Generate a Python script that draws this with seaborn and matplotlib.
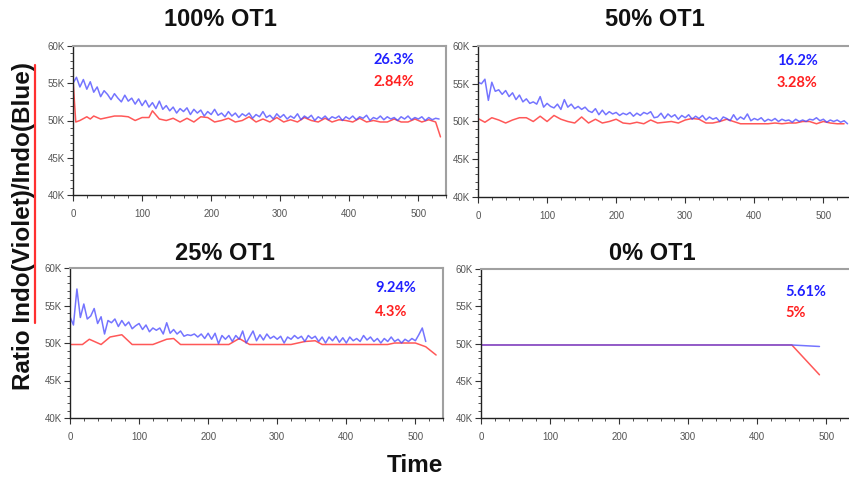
import numpy as np
import pandas as pd
import matplotlib
matplotlib.use("Agg")
import matplotlib.pyplot as plt
from matplotlib.ticker import FuncFormatter, MultipleLocator
from matplotlib.lines import Line2D
import seaborn as sns

# ---------------- data (values in thousands) ----------------
titles = ["100% OT1", "50% OT1", "25% OT1", "0% OT1"]
blue_pct = ["26.3%", "16.2%", "9.24%", "5.61%"]
red_pct = ["2.84%", "3.28%", "4.3%", "5%"]

# Panel 1 (100% OT1)
p1_blue_t = np.arange(0, 531, 5)
p1_blue = [55.0, 55.8, 54.5, 55.5, 54.2, 55.2, 53.8, 54.5, 53.2, 54.0, 53.5, 52.8, 53.6, 53.0, 52.5, 53.4,
           52.6, 53.0, 52.2, 52.9, 52.0, 52.7, 51.8, 52.4, 51.6, 52.6, 51.5, 52.0, 51.3, 51.8, 51.0, 51.6,
           51.2, 51.7, 50.8, 51.5, 51.0, 51.4, 50.6, 51.2, 50.8, 51.5, 50.7, 51.0, 50.5, 51.2, 50.6, 51.0,
           50.4, 50.9, 50.6, 51.0, 50.3, 50.8, 50.5, 51.2, 50.4, 50.7, 50.2, 50.9, 50.4, 50.8, 50.2, 50.6,
           50.3, 50.9, 50.1, 50.6, 50.3, 50.7, 50.0, 50.5, 50.2, 50.6, 50.1, 50.5, 50.3, 50.6, 50.0, 50.5,
           50.2, 50.6, 50.1, 50.5, 50.3, 50.7, 50.0, 50.4, 50.2, 50.6, 50.1, 50.5, 50.2, 50.4, 50.0, 50.5,
           50.2, 50.6, 50.1, 50.4, 50.2, 50.5, 50.0, 50.4, 50.1, 50.3, 50.2]
p1_red_t = [0, 4, 10, 20, 25, 30, 40, 50, 60, 70, 80, 90, 100, 110, 115, 125, 135, 145, 155, 165, 175,
            185, 195, 205, 215, 225, 235, 245, 255, 265, 275, 285, 295, 305, 315, 325, 335, 345, 355,
            365, 375, 385, 395, 405, 415, 425, 435, 445, 455, 465, 475, 485, 495, 505, 515, 525, 532]
p1_red = [55.5, 49.8, 50.0, 50.5, 50.2, 50.6, 50.2, 50.4, 50.6, 50.6, 50.5, 50.0, 50.4, 50.4, 51.3,
          50.2, 50.0, 50.3, 49.8, 50.3, 49.8, 50.5, 50.4, 49.8, 50.0, 50.3, 49.8, 50.0, 50.5, 49.8,
          50.2, 49.8, 50.4, 49.8, 50.1, 49.8, 50.4, 50.0, 49.8, 50.3, 49.8, 50.1, 50.0, 49.8, 50.3,
          49.8, 50.0, 49.8, 49.8, 50.2, 49.8, 49.8, 50.2, 49.8, 50.1, 49.8, 47.8]

# Panel 2 (50% OT1)
p2_blue_t = np.arange(0, 536, 5)
p2_blue = [55.2, 55.0, 55.6, 52.8, 55.2, 54.0, 54.2, 53.6, 54.1, 53.3, 53.8, 52.9, 53.5, 52.6, 53.0, 52.4,
           52.6, 52.3, 53.3, 51.9, 52.4, 52.0, 51.8, 52.3, 51.6, 52.9, 51.9, 52.3, 51.7, 52.0, 51.6, 51.9,
           51.4, 51.2, 51.7, 50.9, 51.5, 50.9, 51.3, 51.0, 51.2, 50.8, 51.1, 50.9, 51.2, 50.7, 51.1, 50.8,
           51.2, 51.0, 51.3, 50.5, 50.6, 51.1, 50.4, 51.0, 50.6, 50.9, 50.3, 50.8, 50.5, 50.9, 50.3, 50.7,
           50.4, 50.8, 50.2, 50.6, 50.3, 50.5, 50.0, 50.6, 50.4, 50.1, 50.9, 50.2, 50.6, 50.3, 51.0, 50.1,
           50.4, 50.2, 50.5, 50.0, 50.3, 50.1, 50.4, 50.0, 50.3, 50.1, 50.2, 49.9, 50.3, 50.0, 50.2, 50.0,
           50.3, 50.2, 50.5, 50.1, 50.3, 49.9, 50.2, 50.0, 50.2, 49.9, 50.1, 49.7]
p2_red_t = np.arange(0, 531, 10)
p2_red = [50.4, 49.9, 50.5, 50.2, 49.8, 50.2, 50.5, 50.5, 50.0, 50.7, 50.0, 50.8, 50.3, 50.0, 49.8,
          50.6, 49.8, 50.3, 49.8, 50.0, 50.3, 49.8, 49.7, 49.9, 49.7, 50.2, 49.8, 49.9, 50.0, 49.8,
          50.2, 50.4, 50.3, 49.8, 49.8, 50.0, 50.3, 50.0, 49.7, 49.7, 49.7, 49.7, 49.7, 49.8, 49.7,
          49.8, 49.8, 50.0, 50.0, 49.7, 50.0, 49.8, 49.7, 49.7]

# Panel 3 (25% OT1)
p3_blue_t = np.arange(0, 516, 5)
p3_blue = [53.5, 52.4, 57.2, 53.4, 55.2, 53.2, 53.6, 54.6, 52.6, 53.5, 51.2, 53.0, 52.7, 53.2, 52.2, 53.0,
           52.3, 52.8, 51.9, 52.3, 52.6, 51.8, 52.4, 51.5, 52.0, 51.7, 52.0, 51.2, 52.7, 51.3, 51.8, 51.2,
           51.6, 50.9, 51.1, 51.0, 51.2, 50.8, 51.2, 50.6, 51.3, 50.5, 51.3, 49.9, 51.0, 50.5, 51.0, 50.2,
           51.0, 50.5, 51.6, 50.0, 50.8, 51.6, 50.3, 51.1, 50.4, 51.2, 50.6, 50.9, 50.5, 50.9, 50.0, 50.8,
           50.5, 51.0, 50.6, 50.9, 50.2, 51.0, 50.6, 50.9, 50.2, 50.8, 50.0, 50.8, 50.3, 50.9, 50.1, 50.7,
           50.0, 50.8, 50.3, 50.6, 50.2, 51.0, 50.4, 50.8, 50.2, 50.6, 50.0, 50.6, 50.2, 50.8, 50.2, 50.5,
           50.0, 50.5, 50.2, 50.6, 50.3, 51.1, 52.0, 50.2]
p3_red_t = [0, 18, 28, 45, 58, 75, 90, 120, 140, 150, 160, 230, 245, 260, 320, 340, 355, 365, 460,
            470, 500, 515, 530]
p3_red = [49.8, 49.8, 50.5, 49.8, 50.8, 51.1, 49.8, 49.8, 50.5, 50.6, 49.8, 49.8, 50.6, 49.8, 49.8,
          50.2, 50.3, 49.8, 49.8, 50.0, 50.0, 49.5, 48.4]

# Panel 4 (0% OT1)
p4_blue_t = [0, 450, 490]
p4_blue = [49.8, 49.8, 49.6]
p4_red_t = [0, 450, 490]
p4_red = [49.8, 49.8, 45.8]

panels = [
    (p1_blue_t, p1_blue, p1_red_t, p1_red),
    (p2_blue_t, p2_blue, p2_red_t, p2_red),
    (p3_blue_t, p3_blue, p3_red_t, p3_red),
    (p4_blue_t, p4_blue, p4_red_t, p4_red),
]

# ---------------- styling / layout ----------------
sns.set_theme(style="white")
plt.rcParams['font.family'] = ['Liberation Sans', 'DejaVu Sans']

W, H = 849, 480
fig = plt.figure(figsize=(W / 100, H / 100), dpi=100)

# axes boxes in pixels: left, top, right, bottom
boxes = [(73, 46, 446, 195), (478, 46, 851, 197), (70, 268, 443, 418), (481, 269, 854, 418)]
title_pos = [(220, 20), (655, 20), (225, 253), (652, 253)]
pct_pos = [(373, 60, 82), (777, 61, 83), (375, 288, 312), (785, 292, 313)]

BLUE = "#4646ff"
RED = "#ff4646"

for i, (bt, bv, rt, rv) in enumerate(panels):
    l, t, r, b = boxes[i]
    ax = fig.add_axes([l / W, 1 - b / H, (r - l) / W, (b - t) / H])
    dfr = pd.DataFrame({"Time": rt, "Ratio": rv})
    dfb = pd.DataFrame({"Time": bt, "Ratio": bv})
    sns.lineplot(data=dfr, x="Time", y="Ratio", ax=ax, color=RED, lw=1.1, alpha=0.9)
    sns.lineplot(data=dfb, x="Time", y="Ratio", ax=ax, color=BLUE, lw=1.1, alpha=0.75)
    ax.set_xlim(0, 540)
    ax.set_ylim(40, 60)
    ax.set_xlabel("")
    ax.set_ylabel("")
    ax.xaxis.set_major_locator(MultipleLocator(100))
    ax.xaxis.set_minor_locator(MultipleLocator(20))
    ax.yaxis.set_major_locator(MultipleLocator(5))
    ax.yaxis.set_minor_locator(MultipleLocator(1))
    ax.yaxis.set_major_formatter(FuncFormatter(lambda v, p: f"{int(round(v))}K"))
    ax.tick_params(axis='both', which='major', direction='out', length=4, width=0.8,
                   labelsize=7, labelcolor="#555555", color="#333333", pad=2,
                   left=True, bottom=True)
    ax.tick_params(axis='both', which='minor', direction='out', length=2, width=0.6,
                   color="#333333", left=True, bottom=True)
    ax.tick_params(axis='x', which='major', pad=6)
    for s in ['left', 'bottom']:
        ax.spines[s].set_color("#222222")
        ax.spines[s].set_linewidth(1.0)
    for s in ['top', 'right']:
        ax.spines[s].set_color("#a0a0a0")
        ax.spines[s].set_linewidth(1.5)
    ax.grid(False)

    tx, ty = title_pos[i]
    fig.text(tx / W, 1 - ty / H, titles[i], ha='center', va='center',
             fontsize=17, fontweight='bold', color="#111111")
    px, py1, py2 = pct_pos[i]
    fig.text(px / W, 1 - py1 / H, blue_pct[i], ha='left', va='center',
             fontsize=10.5, fontweight='bold', color="#2020ff", family=['Lato', 'DejaVu Sans'])
    fig.text(px / W, 1 - py2 / H, red_pct[i], ha='left', va='center',
             fontsize=10.5, fontweight='bold', color="#ff2020", family=['Lato', 'DejaVu Sans'])

# shared labels
fig.text(24 / W, 1 - 226 / H, "Ratio Indo(Violet)/Indo(Blue)", rotation=90,
         ha='center', va='center', fontsize=17.5, fontweight='bold', color="#111111")
fig.text(415 / W, 1 - 465 / H, "Time", ha='center', va='center',
         fontsize=17.5, fontweight='bold', color="#111111")
fig.add_artist(Line2D([35 / W, 35 / W], [1 - 65 / H, 1 - 323 / H],
                      transform=fig.transFigure, color="#ff3030", lw=1.6))

fig.savefig("out.png", dpi=100)
